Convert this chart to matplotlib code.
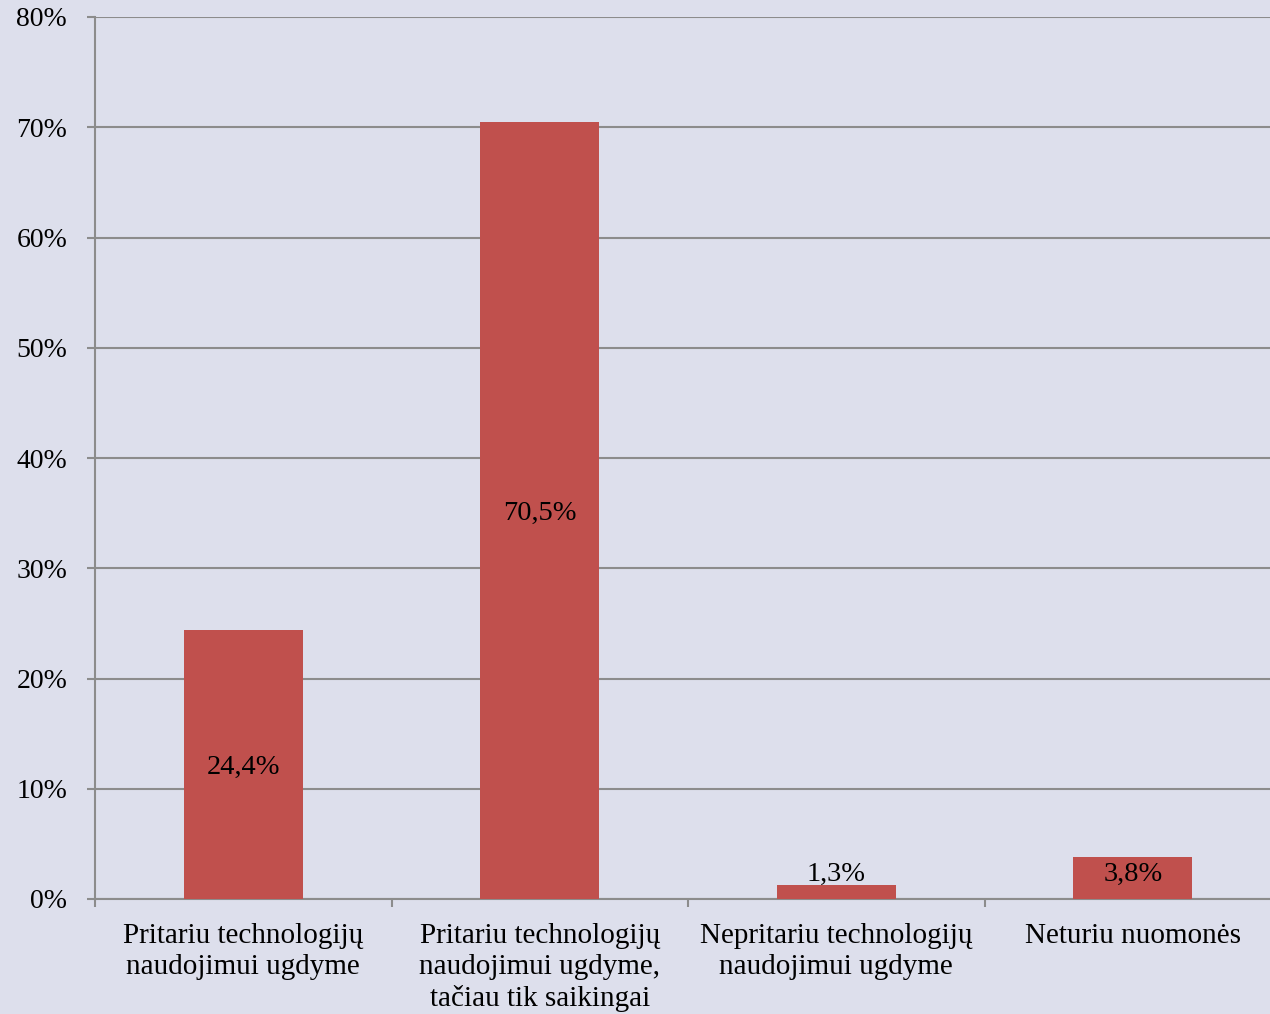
import matplotlib
matplotlib.use('Agg')
import matplotlib.pyplot as plt
import numpy as np

# data
categories = ['Pritariu technologijų\nnaudojimui ugdyme',
              'Pritariu technologijų\nnaudojimui ugdyme,\ntačiau tik saikingai',
              'Nepritariu technologijų\nnaudojimui ugdyme',
              'Neturiu nuomonės']
values = [24.4, 70.5, 1.3, 3.8]
value_labels = ['24,4%', '70,5%', '1,3%', '3,8%']
yticks = [0, 10, 20, 30, 40, 50, 60, 70, 80]

bg = '#DDDFEC'
bar_color = '#C0504D'
grid_color = '#8C8C8C'

plt.rcParams['font.family'] = ['Liberation Serif', 'DejaVu Serif']

fig = plt.figure(figsize=(12.7, 10.14), dpi=100, facecolor=bg)
ax = fig.add_axes([95 / 1270, 115 / 1014, 1186 / 1270, 882 / 1014])
ax.set_facecolor(bg)

x = np.arange(len(categories))
ax.bar(x, values, width=0.4, color=bar_color, zorder=3)

# small bars get their label just above the bar top
for xi, v, lab in zip(x, values, value_labels):
    y = v / 2 if v > 5 else 2.5
    ax.text(xi, y, lab, ha='center', va='center_baseline', fontsize=20.5, color='black', zorder=4)

ax.set_xlim(-0.5, len(categories) - 0.5)
ax.set_ylim(0, 80)
ax.set_yticks(yticks)
ax.set_yticklabels([f'{t}%' for t in yticks])
ax.yaxis.grid(True, color=grid_color, linewidth=1.5, zorder=1)

ax.set_xticks(np.arange(len(categories) + 1) - 0.5)
ax.set_xticklabels([])
ax.set_xticks(x, minor=True)
ax.set_xticklabels(categories, minor=True, fontsize=21, linespacing=1.26)
ax.tick_params(axis='x', which='minor', length=0, pad=17)
ax.tick_params(axis='x', which='major', length=6, width=1.5, color=grid_color, direction='out')
ax.tick_params(axis='y', length=6, width=1.5, color=grid_color, pad=14, labelsize=20)

for s in ['top', 'right']:
    ax.spines[s].set_visible(False)
for s in ['left', 'bottom']:
    ax.spines[s].set_color(grid_color)
    ax.spines[s].set_linewidth(1.5)

fig.savefig('out.png', dpi=100, facecolor=bg)
